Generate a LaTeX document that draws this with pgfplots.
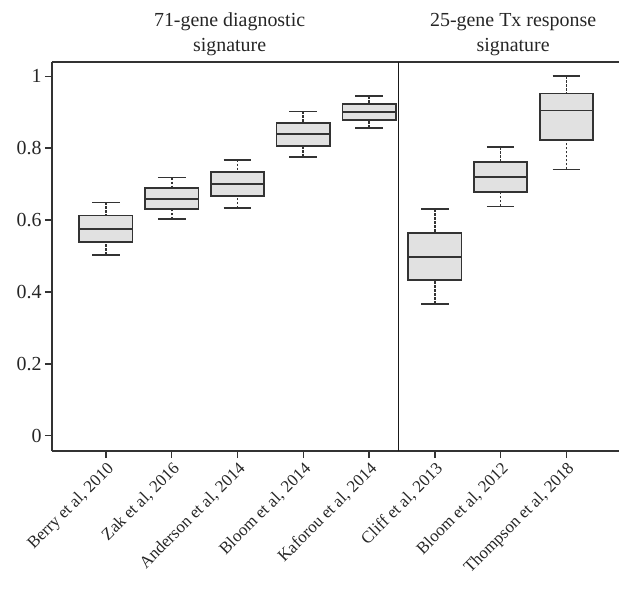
\documentclass[border=0pt]{standalone}
\usepackage{fontspec}
\setmainfont{Liberation Serif}
\usepackage{pgfplots}
\usepgfplotslibrary{statistics}
\pgfplotsset{compat=1.18}

\definecolor{boxedge}{HTML}{333333}
\definecolor{boxfill}{HTML}{E1E1E1}

\pgfplotsset{
  bx/.style={
    draw=boxedge, line width=1.7bp, mark=none, solid,
    boxplot/draw direction=y,
    boxplot/box extend=0.81,
    boxplot/whisker extend=0.42,
    boxplot/every box/.style={fill=boxfill, draw=boxedge, line width=1.7bp},
    boxplot/every median/.style={draw=boxedge, line width=1.7bp},
    boxplot/draw/lower whisker/.code={
      \draw[draw=boxedge, line width=1.6bp, dash pattern=on 2.5bp off 1.5bp]
        (boxplot cs:\pgfplotsboxplotvalue{lower whisker})
        -- (boxplot cs:\pgfplotsboxplotvalue{lower quartile});
      \draw[draw=boxedge, line width=1.7bp]
        (boxplot whisker cs:\pgfplotsboxplotvalue{lower whisker},0)
        -- (boxplot whisker cs:\pgfplotsboxplotvalue{lower whisker},1);
    },
    boxplot/draw/upper whisker/.code={
      \draw[draw=boxedge, line width=1.6bp, dash pattern=on 2.5bp off 1.5bp]
        (boxplot cs:\pgfplotsboxplotvalue{upper whisker})
        -- (boxplot cs:\pgfplotsboxplotvalue{upper quartile});
      \draw[draw=boxedge, line width=1.7bp]
        (boxplot whisker cs:\pgfplotsboxplotvalue{upper whisker},0)
        -- (boxplot whisker cs:\pgfplotsboxplotvalue{upper whisker},1);
    },
  },
}

\begin{document}
\begin{tikzpicture}
\begin{axis}[
  scale only axis,
  width=567bp, height=389bp,
  xmin=-0.82, xmax=7.80,
  ymin=-0.0425, ymax=1.0397,
  axis x line*=box, axis y line*=left,
  axis line style={draw=boxedge, line width=1.5bp},
  xtick={0,...,7},
  xticklabels={{Berry et al, 2010}, {Zak et al, 2016}, {Anderson et al, 2014}, {Bloom et al, 2014}, {Kaforou et al, 2014}, {Cliff et al, 2013}, {Bloom et al, 2012}, {Thompson et al, 2018}},
  ytick={0,0.2,0.4,0.6,0.8,1},
  xtick pos=bottom, ytick pos=left,
  tick align=outside,
  major tick length=7bp,
  tick style={draw=boxedge, line width=1.5bp},
  /pgf/number format/assume math mode=true,
  yticklabel style={font=\fontsize{20}{24}\selectfont, color=black!85},
  xticklabel style={font=\fontsize{17}{21}\selectfont, color=black!85, rotate=45, anchor=north east, inner sep=2bp},
  clip=false,
]
\addplot[bx, boxplot prepared={draw position=0, lower whisker=0.503, lower quartile=0.539, median=0.576, upper quartile=0.613, upper whisker=0.649}] coordinates {};
\addplot[bx, boxplot prepared={draw position=1, lower whisker=0.602, lower quartile=0.630, median=0.659, upper quartile=0.689, upper whisker=0.718}] coordinates {};
\addplot[bx, boxplot prepared={draw position=2, lower whisker=0.633, lower quartile=0.667, median=0.700, upper quartile=0.733, upper whisker=0.768}] coordinates {};
\addplot[bx, boxplot prepared={draw position=3, lower whisker=0.776, lower quartile=0.806, median=0.839, upper quartile=0.870, upper whisker=0.902}] coordinates {};
\addplot[bx, boxplot prepared={draw position=4, lower whisker=0.857, lower quartile=0.879, median=0.901, upper quartile=0.923, upper whisker=0.945}] coordinates {};
\addplot[bx, boxplot prepared={draw position=5, lower whisker=0.367, lower quartile=0.433, median=0.498, upper quartile=0.564, upper whisker=0.630}] coordinates {};
\addplot[bx, boxplot prepared={draw position=6, lower whisker=0.638, lower quartile=0.679, median=0.720, upper quartile=0.761, upper whisker=0.803}] coordinates {};
\addplot[bx, boxplot prepared={draw position=7, lower whisker=0.741, lower quartile=0.823, median=0.905, upper quartile=0.952, upper whisker=1.000}] coordinates {};

% divider between the two signature groups
\draw[black!90, line width=1.1bp] (axis cs:4.45,-0.0425) -- (axis cs:4.45,1.0397);

\node[anchor=base, font=\fontsize{20}{24}\selectfont, text=black!85] at ([yshift=35bp]axis cs:1.88,1.0397) {71-gene diagnostic};
\node[anchor=base, font=\fontsize{20}{24}\selectfont, text=black!85] at ([yshift=10bp]axis cs:1.88,1.0397) {signature};
\node[anchor=base, font=\fontsize{20}{24}\selectfont, text=black!85] at ([yshift=35bp]axis cs:6.19,1.0397) {25-gene Tx response};
\node[anchor=base, font=\fontsize{20}{24}\selectfont, text=black!85] at ([yshift=10bp]axis cs:6.19,1.0397) {signature};

\coordinate (sw) at (rel axis cs:0,0);
\coordinate (ne) at (rel axis cs:1,1);
\end{axis}
\pgfresetboundingbox
\path[use as bounding box] ([xshift=-52bp,yshift=-137bp]sw) rectangle ([xshift=1bp,yshift=62bp]ne);
\end{tikzpicture}
\end{document}
